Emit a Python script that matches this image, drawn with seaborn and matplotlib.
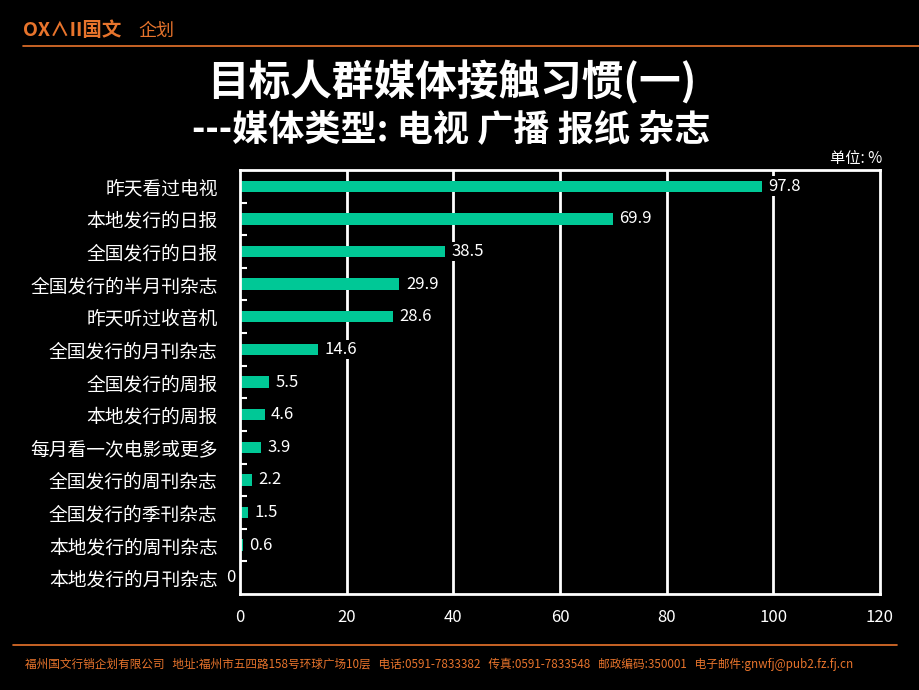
import numpy as np
import pandas as pd
import seaborn as sns
import matplotlib.pyplot as plt
from matplotlib.lines import Line2D

# ---------- datos ----------
categorias = ["昨天看过电视", "本地发行的日报", "全国发行的日报", "全国发行的半月刊杂志",
              "昨天听过收音机", "全国发行的月刊杂志", "全国发行的周报", "本地发行的周报",
              "每月看一次电影或更多", "全国发行的周刊杂志", "全国发行的季刊杂志",
              "本地发行的周刊杂志", "本地发行的月刊杂志"]
valores = [97.8, 69.9, 38.5, 29.9, 28.6, 14.6, 5.5, 4.6, 3.9, 2.2, 1.5, 0.6, 0]
etiquetas_valor = ["97.8", "69.9", "38.5", "29.9", "28.6", "14.6", "5.5", "4.6",
                   "3.9", "2.2", "1.5", "0.6", "0"]
xticks = [0, 20, 40, 60, 80, 100, 120]

titulo = "目标人群媒体接触习惯(一)"
subtitulo = "---媒体类型: 电视 广播 报纸 杂志"
unidad = "单位: %"
pie = ("福州国文行销企划有限公司   地址:福州市五四路158号环球广场10层   电话:0591-7833382   "
       "传真:0591-7833548   邮政编码:350001   电子邮件:gnwfj@pub2.fz.fj.cn")

BG = "#000000"
BAR = "#00C896"
ORANGE = "#E8742C"
FONTS = ["Noto Sans CJK SC", "DejaVu Sans"]

sns.set_theme(style="dark")
plt.rcParams["font.family"] = FONTS
plt.rcParams["axes.unicode_minus"] = False

df = pd.DataFrame({"cat": categorias, "val": valores})

fig = plt.figure(figsize=(9.2, 6.9), dpi=100, facecolor=BG)
ax = fig.add_axes([240 / 920, 1 - 594 / 690, 640 / 920, 424 / 690])
ax.set_facecolor(BG)

sns.barplot(data=df, x="val", y="cat", orient="h", color=BAR, width=0.35,
            saturation=1, linewidth=0, ax=ax)

ax.set_xlim(0, 120)
ax.set_ylim(len(categorias) - 0.5, -0.5)
ax.set_xticks(xticks)
ax.set_xticklabels([str(t) for t in xticks], color="white", fontsize=12)
ax.tick_params(axis="x", length=0, pad=11)
ax.set_yticks(range(len(categorias)))
ax.set_yticklabels(categorias, color="white", fontsize=13.5)
ax.tick_params(axis="y", which="major", length=0, pad=16)
ax.set_yticks(np.arange(0.5, len(categorias) - 1, 1), minor=True)
ax.tick_params(axis="y", which="minor", direction="in", length=5, width=1.5,
               color="white", left=True)
ax.set_xlabel("")
ax.set_ylabel("")
ax.grid(False)
for t in xticks[1:-1]:
    ax.axvline(t, color="white", lw=2, zorder=0)
for s in ax.spines.values():
    s.set_visible(True)
    s.set_color("white")
    s.set_linewidth(2)

for i, (v, lab) in enumerate(zip(valores, etiquetas_valor)):
    if v == 0:
        ax.text(-0.8, i, lab, color="white", fontsize=12, va="center", ha="right")
    else:
        ax.text(v + 1.2, i, lab, color="white", fontsize=12, va="center", ha="left",
                bbox=dict(facecolor=BG, edgecolor="none", pad=1))

# ---------- textos de la lámina ----------
fig.text(452 / 920, 1 - 82 / 690, titulo, color="white", fontsize=30, fontweight="bold",
         ha="center", va="center")
fig.text(451 / 920, 1 - 130 / 690, subtitulo, color="white", fontsize=26,
         fontweight="bold", ha="center", va="center")
fig.text(882 / 920, 1 - 159 / 690, unidad, color="white", fontsize=11,
         ha="right", va="center")

fig.text(23 / 920, 1 - 31 / 690, "OX∧II国文", color=ORANGE, fontsize=14,
         fontweight="bold", ha="left", va="center")
fig.text(138 / 920, 1 - 31 / 690, "企划", color=ORANGE, fontsize=13,
         ha="left", va="center")
fig.add_artist(Line2D([23 / 920, 1.0], [1 - 46 / 690] * 2, color=ORANGE, lw=1.2))
fig.add_artist(Line2D([13 / 920, 897 / 920], [1 - 645 / 690] * 2, color=ORANGE, lw=1.2))
fig.text(25 / 920, 1 - 664 / 690, pie, color=ORANGE, fontsize=8.4,
         ha="left", va="center")

fig.savefig("out.png", dpi=100, facecolor=BG)
